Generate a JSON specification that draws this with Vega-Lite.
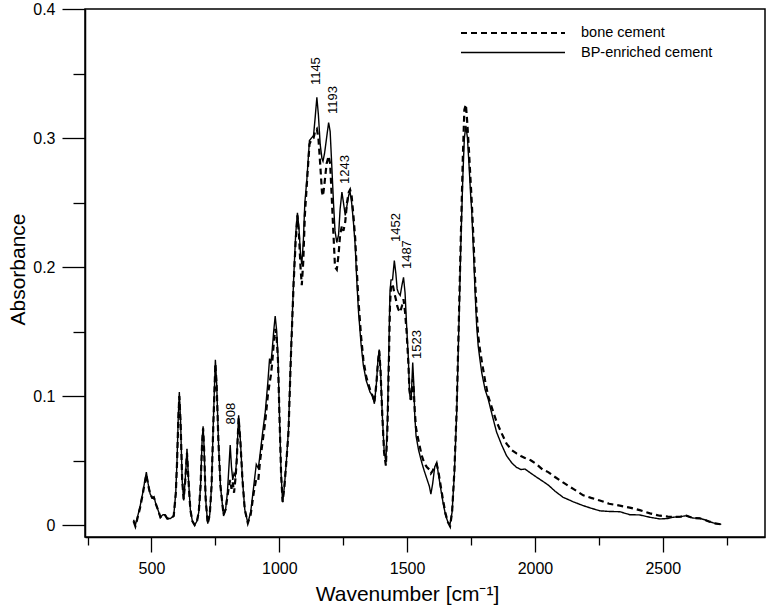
{
  "$schema": "https://vega.github.io/schema/vega-lite/v6.json",
  "width": 680,
  "height": 528,
  "autosize": {"type": "none"},
  "padding": {"left": 85, "top": 9, "right": 2, "bottom": 70},
  "config": {
    "font": "Liberation Sans",
    "view": {"stroke": "black", "strokeWidth": 1.5},
    "axis": {
      "grid": false,
      "domainColor": "black",
      "domainWidth": 1.5,
      "tickColor": "black",
      "tickWidth": 1.3,
      "labelColor": "black",
      "titleColor": "black",
      "labelFontSize": 16,
      "titleFontSize": 21,
      "titleFontWeight": "normal",
      "labelFont": "Liberation Sans",
      "titleFont": "Liberation Sans"
    }
  },
  "datasets": {
    "spectra": [
      {"w":430,"BP-enriched cement":0.004,"bone cement":0.003},
      {"w":437,"BP-enriched cement":0.0,"bone cement":-0.001},
      {"w":445,"BP-enriched cement":0.006,"bone cement":0.005},
      {"w":455,"BP-enriched cement":0.014,"bone cement":0.013},
      {"w":465,"BP-enriched cement":0.024,"bone cement":0.023},
      {"w":473,"BP-enriched cement":0.033,"bone cement":0.032},
      {"w":480,"BP-enriched cement":0.041,"bone cement":0.039},
      {"w":487,"BP-enriched cement":0.032,"bone cement":0.031},
      {"w":495,"BP-enriched cement":0.024,"bone cement":0.024},
      {"w":503,"BP-enriched cement":0.021,"bone cement":0.021},
      {"w":510,"BP-enriched cement":0.022,"bone cement":0.021},
      {"w":516,"BP-enriched cement":0.017,"bone cement":0.017},
      {"w":525,"BP-enriched cement":0.012,"bone cement":0.012},
      {"w":535,"BP-enriched cement":0.006,"bone cement":0.006},
      {"w":545,"BP-enriched cement":0.008,"bone cement":0.008},
      {"w":552,"BP-enriched cement":0.008,"bone cement":0.008},
      {"w":562,"BP-enriched cement":0.005,"bone cement":0.005},
      {"w":574,"BP-enriched cement":0.005,"bone cement":0.005},
      {"w":587,"BP-enriched cement":0.007,"bone cement":0.007},
      {"w":595,"BP-enriched cement":0.025,"bone cement":0.024},
      {"w":600,"BP-enriched cement":0.05,"bone cement":0.048},
      {"w":605,"BP-enriched cement":0.085,"bone cement":0.082},
      {"w":609,"BP-enriched cement":0.103,"bone cement":0.1},
      {"w":614,"BP-enriched cement":0.08,"bone cement":0.079},
      {"w":620,"BP-enriched cement":0.035,"bone cement":0.035},
      {"w":626,"BP-enriched cement":0.019,"bone cement":0.02},
      {"w":632,"BP-enriched cement":0.035,"bone cement":0.034},
      {"w":639,"BP-enriched cement":0.059,"bone cement":0.056},
      {"w":645,"BP-enriched cement":0.035,"bone cement":0.034},
      {"w":652,"BP-enriched cement":0.012,"bone cement":0.012},
      {"w":660,"BP-enriched cement":0.003,"bone cement":0.003},
      {"w":669,"BP-enriched cement":0.0,"bone cement":0.0},
      {"w":678,"BP-enriched cement":0.003,"bone cement":0.003},
      {"w":685,"BP-enriched cement":0.01,"bone cement":0.01},
      {"w":692,"BP-enriched cement":0.03,"bone cement":0.03},
      {"w":698,"BP-enriched cement":0.065,"bone cement":0.063},
      {"w":702,"BP-enriched cement":0.0765,"bone cement":0.075},
      {"w":706,"BP-enriched cement":0.06,"bone cement":0.058},
      {"w":712,"BP-enriched cement":0.02,"bone cement":0.02},
      {"w":720,"BP-enriched cement":0.001,"bone cement":0.001},
      {"w":728,"BP-enriched cement":0.008,"bone cement":0.008},
      {"w":735,"BP-enriched cement":0.03,"bone cement":0.03},
      {"w":742,"BP-enriched cement":0.08,"bone cement":0.078},
      {"w":750,"BP-enriched cement":0.128,"bone cement":0.125},
      {"w":755,"BP-enriched cement":0.11,"bone cement":0.108},
      {"w":762,"BP-enriched cement":0.065,"bone cement":0.064},
      {"w":770,"BP-enriched cement":0.03,"bone cement":0.03},
      {"w":782,"BP-enriched cement":0.007,"bone cement":0.008},
      {"w":790,"BP-enriched cement":0.012,"bone cement":0.012},
      {"w":797,"BP-enriched cement":0.025,"bone cement":0.022},
      {"w":803,"BP-enriched cement":0.045,"bone cement":0.03},
      {"w":808,"BP-enriched cement":0.062,"bone cement":0.035},
      {"w":813,"BP-enriched cement":0.045,"bone cement":0.028},
      {"w":818,"BP-enriched cement":0.035,"bone cement":0.033},
      {"w":823,"BP-enriched cement":0.04,"bone cement":0.025},
      {"w":828,"BP-enriched cement":0.038,"bone cement":0.035},
      {"w":833,"BP-enriched cement":0.05,"bone cement":0.048},
      {"w":841,"BP-enriched cement":0.085,"bone cement":0.083},
      {"w":848,"BP-enriched cement":0.065,"bone cement":0.064},
      {"w":856,"BP-enriched cement":0.035,"bone cement":0.035},
      {"w":865,"BP-enriched cement":0.012,"bone cement":0.012},
      {"w":877,"BP-enriched cement":0.0015,"bone cement":0.0015},
      {"w":888,"BP-enriched cement":0.01,"bone cement":0.008},
      {"w":900,"BP-enriched cement":0.03,"bone cement":0.025},
      {"w":910,"BP-enriched cement":0.047,"bone cement":0.036},
      {"w":918,"BP-enriched cement":0.044,"bone cement":0.035},
      {"w":925,"BP-enriched cement":0.055,"bone cement":0.05},
      {"w":935,"BP-enriched cement":0.072,"bone cement":0.065},
      {"w":945,"BP-enriched cement":0.0875,"bone cement":0.08},
      {"w":955,"BP-enriched cement":0.11,"bone cement":0.1},
      {"w":962,"BP-enriched cement":0.129,"bone cement":0.11},
      {"w":967,"BP-enriched cement":0.125,"bone cement":0.116},
      {"w":972,"BP-enriched cement":0.135,"bone cement":0.125},
      {"w":978,"BP-enriched cement":0.15,"bone cement":0.14},
      {"w":984,"BP-enriched cement":0.162,"bone cement":0.152},
      {"w":990,"BP-enriched cement":0.15,"bone cement":0.145},
      {"w":995,"BP-enriched cement":0.13,"bone cement":0.127},
      {"w":1000,"BP-enriched cement":0.09,"bone cement":0.09},
      {"w":1007,"BP-enriched cement":0.04,"bone cement":0.04},
      {"w":1013,"BP-enriched cement":0.0176,"bone cement":0.018},
      {"w":1020,"BP-enriched cement":0.03,"bone cement":0.03},
      {"w":1028,"BP-enriched cement":0.05,"bone cement":0.05},
      {"w":1036,"BP-enriched cement":0.074,"bone cement":0.072},
      {"w":1045,"BP-enriched cement":0.13,"bone cement":0.128},
      {"w":1056,"BP-enriched cement":0.19,"bone cement":0.187},
      {"w":1064,"BP-enriched cement":0.225,"bone cement":0.22},
      {"w":1071,"BP-enriched cement":0.242,"bone cement":0.24},
      {"w":1077,"BP-enriched cement":0.23,"bone cement":0.225},
      {"w":1083,"BP-enriched cement":0.21,"bone cement":0.2},
      {"w":1088,"BP-enriched cement":0.202,"bone cement":0.186},
      {"w":1094,"BP-enriched cement":0.22,"bone cement":0.205},
      {"w":1100,"BP-enriched cement":0.25,"bone cement":0.24},
      {"w":1108,"BP-enriched cement":0.268,"bone cement":0.265},
      {"w":1118,"BP-enriched cement":0.298,"bone cement":0.295},
      {"w":1126,"BP-enriched cement":0.3,"bone cement":0.299},
      {"w":1134,"BP-enriched cement":0.302,"bone cement":0.3},
      {"w":1140,"BP-enriched cement":0.315,"bone cement":0.305},
      {"w":1147,"BP-enriched cement":0.3315,"bone cement":0.307},
      {"w":1153,"BP-enriched cement":0.318,"bone cement":0.3},
      {"w":1160,"BP-enriched cement":0.295,"bone cement":0.28},
      {"w":1167,"BP-enriched cement":0.284,"bone cement":0.258},
      {"w":1171,"BP-enriched cement":0.282,"bone cement":0.255},
      {"w":1177,"BP-enriched cement":0.288,"bone cement":0.265},
      {"w":1185,"BP-enriched cement":0.3,"bone cement":0.28},
      {"w":1193,"BP-enriched cement":0.312,"bone cement":0.286},
      {"w":1199,"BP-enriched cement":0.305,"bone cement":0.28},
      {"w":1205,"BP-enriched cement":0.28,"bone cement":0.255},
      {"w":1212,"BP-enriched cement":0.25,"bone cement":0.225},
      {"w":1218,"BP-enriched cement":0.228,"bone cement":0.2},
      {"w":1225,"BP-enriched cement":0.219,"bone cement":0.198},
      {"w":1232,"BP-enriched cement":0.225,"bone cement":0.21},
      {"w":1238,"BP-enriched cement":0.245,"bone cement":0.225},
      {"w":1245,"BP-enriched cement":0.258,"bone cement":0.232},
      {"w":1251,"BP-enriched cement":0.25,"bone cement":0.228},
      {"w":1258,"BP-enriched cement":0.24,"bone cement":0.235},
      {"w":1265,"BP-enriched cement":0.248,"bone cement":0.25},
      {"w":1272,"BP-enriched cement":0.256,"bone cement":0.258},
      {"w":1277,"BP-enriched cement":0.258,"bone cement":0.26},
      {"w":1283,"BP-enriched cement":0.25,"bone cement":0.255},
      {"w":1290,"BP-enriched cement":0.235,"bone cement":0.24},
      {"w":1297,"BP-enriched cement":0.2165,"bone cement":0.222},
      {"w":1303,"BP-enriched cement":0.19,"bone cement":0.198},
      {"w":1310,"BP-enriched cement":0.165,"bone cement":0.173},
      {"w":1320,"BP-enriched cement":0.14,"bone cement":0.146},
      {"w":1329,"BP-enriched cement":0.1235,"bone cement":0.128},
      {"w":1340,"BP-enriched cement":0.112,"bone cement":0.115},
      {"w":1355,"BP-enriched cement":0.103,"bone cement":0.105},
      {"w":1365,"BP-enriched cement":0.1,"bone cement":0.1},
      {"w":1372,"BP-enriched cement":0.094,"bone cement":0.095},
      {"w":1380,"BP-enriched cement":0.11,"bone cement":0.11},
      {"w":1386,"BP-enriched cement":0.128,"bone cement":0.126},
      {"w":1391,"BP-enriched cement":0.136,"bone cement":0.135},
      {"w":1396,"BP-enriched cement":0.12,"bone cement":0.12},
      {"w":1403,"BP-enriched cement":0.085,"bone cement":0.085},
      {"w":1410,"BP-enriched cement":0.058,"bone cement":0.056},
      {"w":1417,"BP-enriched cement":0.0486,"bone cement":0.046},
      {"w":1423,"BP-enriched cement":0.08,"bone cement":0.075},
      {"w":1428,"BP-enriched cement":0.13,"bone cement":0.12},
      {"w":1433,"BP-enriched cement":0.18,"bone cement":0.17},
      {"w":1437,"BP-enriched cement":0.19,"bone cement":0.185},
      {"w":1443,"BP-enriched cement":0.19,"bone cement":0.187},
      {"w":1450,"BP-enriched cement":0.205,"bone cement":0.18},
      {"w":1456,"BP-enriched cement":0.195,"bone cement":0.175},
      {"w":1461,"BP-enriched cement":0.183,"bone cement":0.17},
      {"w":1466,"BP-enriched cement":0.18,"bone cement":0.167},
      {"w":1473,"BP-enriched cement":0.178,"bone cement":0.165},
      {"w":1480,"BP-enriched cement":0.186,"bone cement":0.17},
      {"w":1486,"BP-enriched cement":0.192,"bone cement":0.175},
      {"w":1492,"BP-enriched cement":0.18,"bone cement":0.165},
      {"w":1498,"BP-enriched cement":0.155,"bone cement":0.15},
      {"w":1505,"BP-enriched cement":0.1287,"bone cement":0.125},
      {"w":1509,"BP-enriched cement":0.105,"bone cement":0.105},
      {"w":1512,"BP-enriched cement":0.0977,"bone cement":0.1},
      {"w":1516,"BP-enriched cement":0.098,"bone cement":0.097},
      {"w":1522,"BP-enriched cement":0.126,"bone cement":0.113},
      {"w":1526,"BP-enriched cement":0.11,"bone cement":0.105},
      {"w":1530,"BP-enriched cement":0.085,"bone cement":0.088},
      {"w":1535,"BP-enriched cement":0.069,"bone cement":0.075},
      {"w":1545,"BP-enriched cement":0.058,"bone cement":0.065},
      {"w":1557,"BP-enriched cement":0.0486,"bone cement":0.054},
      {"w":1567,"BP-enriched cement":0.042,"bone cement":0.048},
      {"w":1577,"BP-enriched cement":0.036,"bone cement":0.045},
      {"w":1587,"BP-enriched cement":0.03,"bone cement":0.043},
      {"w":1593,"BP-enriched cement":0.024,"bone cement":0.04},
      {"w":1600,"BP-enriched cement":0.032,"bone cement":0.042},
      {"w":1608,"BP-enriched cement":0.045,"bone cement":0.046},
      {"w":1616,"BP-enriched cement":0.0486,"bone cement":0.047},
      {"w":1622,"BP-enriched cement":0.04,"bone cement":0.042},
      {"w":1630,"BP-enriched cement":0.03,"bone cement":0.032},
      {"w":1640,"BP-enriched cement":0.018,"bone cement":0.02},
      {"w":1650,"BP-enriched cement":0.008,"bone cement":0.009},
      {"w":1660,"BP-enriched cement":0.002,"bone cement":0.002},
      {"w":1668,"BP-enriched cement":0.0008,"bone cement":-0.001},
      {"w":1676,"BP-enriched cement":0.01,"bone cement":0.01},
      {"w":1685,"BP-enriched cement":0.04,"bone cement":0.042},
      {"w":1694,"BP-enriched cement":0.087,"bone cement":0.09},
      {"w":1702,"BP-enriched cement":0.15,"bone cement":0.155},
      {"w":1710,"BP-enriched cement":0.2165,"bone cement":0.222},
      {"w":1718,"BP-enriched cement":0.27,"bone cement":0.285},
      {"w":1724,"BP-enriched cement":0.3,"bone cement":0.322},
      {"w":1730,"BP-enriched cement":0.3095,"bone cement":0.326},
      {"w":1736,"BP-enriched cement":0.3,"bone cement":0.31},
      {"w":1742,"BP-enriched cement":0.28,"bone cement":0.29},
      {"w":1748,"BP-enriched cement":0.258,"bone cement":0.268},
      {"w":1753,"BP-enriched cement":0.2424,"bone cement":0.25},
      {"w":1760,"BP-enriched cement":0.21,"bone cement":0.22},
      {"w":1766,"BP-enriched cement":0.18,"bone cement":0.19},
      {"w":1772,"BP-enriched cement":0.155,"bone cement":0.165},
      {"w":1778,"BP-enriched cement":0.139,"bone cement":0.147},
      {"w":1785,"BP-enriched cement":0.128,"bone cement":0.136},
      {"w":1792,"BP-enriched cement":0.118,"bone cement":0.127},
      {"w":1805,"BP-enriched cement":0.105,"bone cement":0.112},
      {"w":1817,"BP-enriched cement":0.0977,"bone cement":0.1},
      {"w":1833,"BP-enriched cement":0.085,"bone cement":0.09},
      {"w":1850,"BP-enriched cement":0.072,"bone cement":0.08},
      {"w":1870,"BP-enriched cement":0.062,"bone cement":0.071},
      {"w":1889,"BP-enriched cement":0.0537,"bone cement":0.063},
      {"w":1910,"BP-enriched cement":0.048,"bone cement":0.058},
      {"w":1928,"BP-enriched cement":0.0447,"bone cement":0.0555},
      {"w":1945,"BP-enriched cement":0.043,"bone cement":0.0535},
      {"w":1961,"BP-enriched cement":0.0434,"bone cement":0.052},
      {"w":1985,"BP-enriched cement":0.04,"bone cement":0.05},
      {"w":2007,"BP-enriched cement":0.037,"bone cement":0.047},
      {"w":2030,"BP-enriched cement":0.034,"bone cement":0.043},
      {"w":2052,"BP-enriched cement":0.031,"bone cement":0.041},
      {"w":2080,"BP-enriched cement":0.026,"bone cement":0.037},
      {"w":2110,"BP-enriched cement":0.0215,"bone cement":0.033},
      {"w":2150,"BP-enriched cement":0.018,"bone cement":0.028},
      {"w":2189,"BP-enriched cement":0.015,"bone cement":0.023},
      {"w":2220,"BP-enriched cement":0.013,"bone cement":0.021},
      {"w":2254,"BP-enriched cement":0.011,"bone cement":0.019},
      {"w":2290,"BP-enriched cement":0.0105,"bone cement":0.0165},
      {"w":2332,"BP-enriched cement":0.0103,"bone cement":0.015},
      {"w":2371,"BP-enriched cement":0.008,"bone cement":0.0135},
      {"w":2410,"BP-enriched cement":0.0078,"bone cement":0.0115},
      {"w":2450,"BP-enriched cement":0.006,"bone cement":0.009},
      {"w":2488,"BP-enriched cement":0.0047,"bone cement":0.0072},
      {"w":2520,"BP-enriched cement":0.005,"bone cement":0.0065},
      {"w":2540,"BP-enriched cement":0.006,"bone cement":0.0062},
      {"w":2570,"BP-enriched cement":0.0065,"bone cement":0.0065},
      {"w":2592,"BP-enriched cement":0.0072,"bone cement":0.0072},
      {"w":2618,"BP-enriched cement":0.0054,"bone cement":0.0054},
      {"w":2644,"BP-enriched cement":0.0052,"bone cement":0.0052},
      {"w":2665,"BP-enriched cement":0.004,"bone cement":0.004},
      {"w":2683,"BP-enriched cement":0.0026,"bone cement":0.0026},
      {"w":2705,"BP-enriched cement":0.0012,"bone cement":0.0012},
      {"w":2729,"BP-enriched cement":0.0005,"bone cement":0.0005}
    ],
    "peaks": [
      {"label":"808","w":812,"a":0.078},
      {"label":"1145","w":1145,"a":0.341},
      {"label":"1193","w":1209,"a":0.3186},
      {"label":"1243","w":1258,"a":0.2643},
      {"label":"1452","w":1455,"a":0.2194},
      {"label":"1487","w":1500,"a":0.1984},
      {"label":"1523","w":1539,"a":0.1287}
    ]
  },
  "layer": [
    {
      "data": {"name": "spectra"},
      "transform": [{"fold": ["bone cement", "BP-enriched cement"], "as": ["series", "a"]}],
      "mark": {"type": "line", "color": "black"},
      "encoding": {
        "x": {
          "field": "w", "type": "quantitative",
          "scale": {"domain": [240, 2900], "nice": false, "zero": false},
          "axis": {
            "title": "Wavenumber [cm⁻¹]",
            "values": [250, 500, 750, 1000, 1250, 1500, 1750, 2000, 2250, 2500, 2750],
            "format": "d",
            "labelExpr": "datum.value % 500 == 0 ? datum.label : ''",
            "tickSize": {"condition": {"test": "datum.value % 500 == 0", "value": 15}, "value": 8},
            "labelPadding": 8,
            "titleX": 322,
            "titleY": 63,
            "titleAlign": "center",
            "titleBaseline": "alphabetic"
          }
        },
        "y": {
          "field": "a", "type": "quantitative",
          "scale": {"domain": [-0.0093, 0.4], "nice": false, "zero": false},
          "axis": {
            "title": "Absorbance",
            "values": [0, 0.025, 0.05, 0.075, 0.1, 0.125, 0.15, 0.175, 0.2, 0.225, 0.25, 0.275, 0.3, 0.325, 0.35, 0.375, 0.4],
            "labelExpr": "abs(datum.value*10 - round(datum.value*10)) < 0.001 ? format(datum.value, '~g') : ''",
            "tickSize": {"condition": {"test": "abs(datum.value*10 - round(datum.value*10)) < 0.001", "value": 23}, "value": 12},
            "labelPadding": 7,
            "titleX": -67,
            "titleY": 260,
            "titleAlign": "center",
            "titleBaseline": "middle"
          }
        },
        "strokeDash": {
          "field": "series", "type": "nominal",
          "scale": {"domain": ["bone cement", "BP-enriched cement"], "range": [[6, 4], [1, 0]]},
          "legend": {
            "orient": "none",
            "legendX": 420,
            "legendY": 16,
            "title": null,
            "symbolType": "M-8,0H8",
            "symbolSize": 169,
            "symbolStrokeColor": "black",
            "symbolStrokeWidth": 1.6,
            "labelFontSize": 14.5,
            "labelColor": "black",
            "labelOffset": 60,
            "rowPadding": 4,
            "padding": 0
          }
        },
        "strokeWidth": {
          "field": "series", "type": "nominal",
          "scale": {"domain": ["bone cement", "BP-enriched cement"], "range": [2.2, 1.4]},
          "legend": null
        }
      }
    },
    {
      "data": {"name": "peaks"},
      "mark": {"type": "text", "angle": 270, "align": "left", "baseline": "middle", "fontSize": 13, "color": "black"},
      "encoding": {
        "x": {"field": "w", "type": "quantitative"},
        "y": {"field": "a", "type": "quantitative"},
        "text": {"field": "label"}
      }
    }
  ]
}
